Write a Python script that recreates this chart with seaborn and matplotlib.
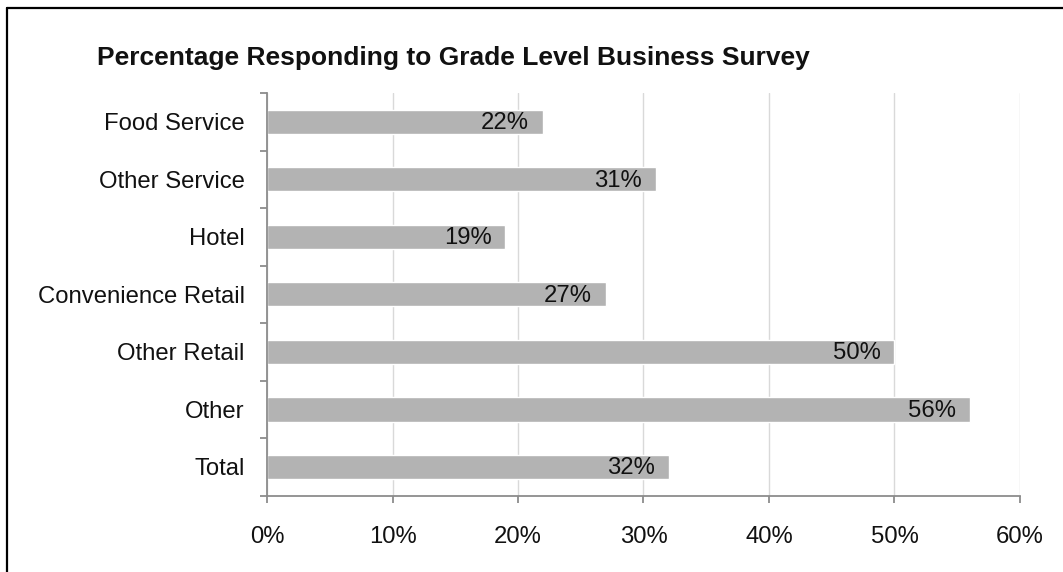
import matplotlib
matplotlib.use("Agg")
import matplotlib.pyplot as plt
import seaborn as sns
import pandas as pd
from matplotlib.lines import Line2D
from matplotlib.ticker import FixedLocator, PercentFormatter

categories = ["Food Service", "Other Service", "Hotel", "Convenience Retail",
              "Other Retail", "Other", "Total"]
values = [22, 31, 19, 27, 50, 56, 32]
x_ticks = [0, 10, 20, 30, 40, 50, 60]

sns.set_style("white")
plt.rcParams['font.family'] = ['Liberation Sans', 'DejaVu Sans']

df = pd.DataFrame({"category": categories, "value": values})

fig = plt.figure(figsize=(10.63, 5.72), dpi=100)
ax = fig.add_axes([0.2512, 0.1333, 0.7083, 0.7041])

sns.barplot(data=df, x="value", y="category", orient="h", color="#b3b3b3",
            saturation=1, width=0.42, ax=ax)

# value labels just inside the bar end
for bar, v in zip(ax.patches, values):
    ax.annotate(f"{v}%", xy=(bar.get_width(), bar.get_y() + bar.get_height() / 2),
                xytext=(-10, -1), textcoords="offset points",
                ha="right", va="center", fontsize=17.2, color="#111111")

ax.set_xlim(0, 60)
ax.set_ylim(len(categories) - 0.5, -0.5)
ax.set_xticks(x_ticks)
ax.xaxis.set_major_formatter(PercentFormatter(decimals=0))
ax.grid(axis="x", color="#d9d9d9", linewidth=1)
ax.set_axisbelow(True)

for s in ["top", "right"]:
    ax.spines[s].set_visible(False)
for s in ["left", "bottom"]:
    ax.spines[s].set_color("#8c8c8c")
    ax.spines[s].set_linewidth(1.3)

ax.tick_params(axis="x", length=5, width=1.3, color="#8c8c8c", direction="out",
               labelsize=17.2, pad=17, labelcolor="#111111", bottom=True)
ax.tick_params(axis="y", which="major", length=0, labelsize=17.2, pad=16,
               labelcolor="#111111")
ax.yaxis.set_minor_locator(FixedLocator([i - 0.5 for i in range(len(categories) + 1)]))
ax.tick_params(axis="y", which="minor", length=5, width=1.3, color="#8c8c8c",
               direction="out", left=True)
ax.set_xlabel("")
ax.set_ylabel("")

fig.text(0.0912, 0.898, "Percentage Responding to Grade Level Business Survey",
         fontsize=19, fontweight="bold", ha="left", va="center", color="#111111")

# frame (only top and left edges are visible in the crop)
fig.add_artist(Line2D([0.0066, 0.0066], [0, 0.986], transform=fig.transFigure,
                      color="black", linewidth=1.6))
fig.add_artist(Line2D([0.0066, 1], [0.986, 0.986], transform=fig.transFigure,
                      color="black", linewidth=1.6))

fig.savefig("out.png", dpi=100)
